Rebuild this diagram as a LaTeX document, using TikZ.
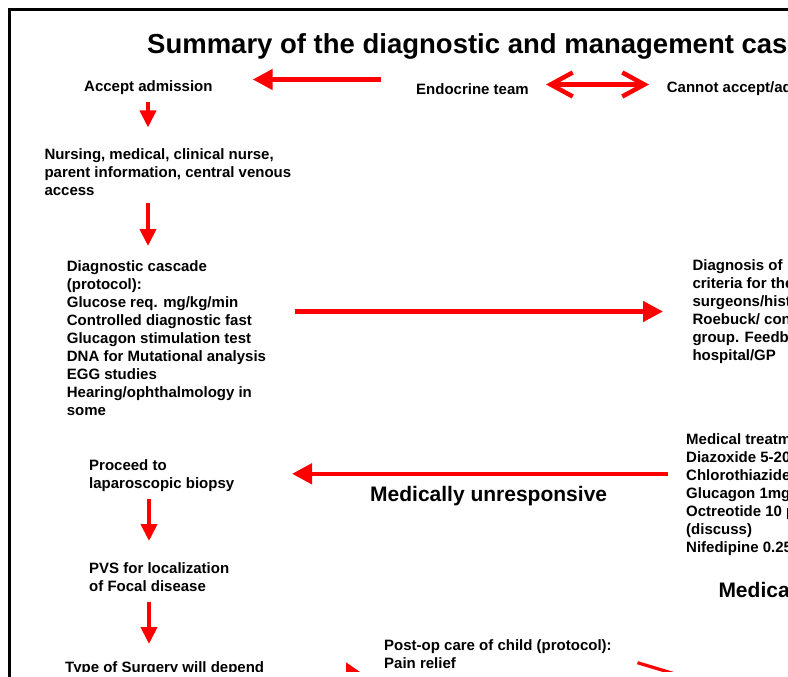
\documentclass[tikz,border=0pt]{standalone}
\usepackage{fontspec}
\setmainfont{Liberation Sans}
\usetikzlibrary{arrows.meta}
\tikzset{
  txt/.style={anchor=base west, inner sep=0pt, align=left, font=\bfseries\fontsize{15}{18}\selectfont},
  bigtxt/.style={anchor=base west, inner sep=0pt, font=\bfseries\fontsize{21}{25}\selectfont},
  titletxt/.style={anchor=base west, inner sep=0pt, font=\bfseries\fontsize{27.5}{32}\selectfont},
  harr/.style={draw=red, line width=4.6pt, -{Triangle[length=20pt,width=20pt]}, red},
  darr/.style={draw=red, line width=4pt, -{Triangle[length=17pt,width=16pt]}, red},
  dblarr/.style={draw=red, line width=4.5pt, {Straight Barb[length=22pt,width=24pt]}-{Straight Barb[length=22pt,width=24pt]}, red},
  thinred/.style={draw=red, line width=3.2pt}
}
\begin{document}
\begin{tikzpicture}[x=1pt,y=-1pt]
\useasboundingbox (0,0) rectangle (788,677);
\begin{scope}
\clip (11,11) rectangle (787,671.8);
% texts (multi-line nodes are placed by the baseline of their last line)
\node[titletxt] (title) at (147,53.3) {Summary of the diagnostic and management cascade};
\node[txt] (acc) at (84,92) {Accept admission};
\node[txt] (endo) at (416,95) {Endocrine team};
\node[txt] (cannot) at (666.7,92.7) {Cannot accept/advise};
\node[txt] (nurs) at (44.3,195) {Nursing, medical, clinical nurse,\\parent information, central venous\\access};
\node[txt] (diag) at (66.7,415.7) {Diagnostic cascade\\(protocol):\\Glucose req. mg/kg/min\\Controlled diagnostic fast\\Glucagon stimulation test\\DNA for Mutational analysis\\EGG studies\\Hearing/ophthalmology in\\some};
\node[txt] (dx) at (692.3,360.7) {Diagnosis of \ CHI and\\criteria for the\\surgeons/histopathology/\\Roebuck/ consultant\\group. Feedback to\\hospital/GP};
\node[txt] (med) at (686,552.3) {Medical treatment\\Diazoxide 5-20 mg/kg/day\\Chlorothiazide 7-10 mg/kg/day\\Glucagon 1mg/day\\Octreotide 10 \textmu g/kg/day\\(discuss)\\Nifedipine 0.25 mg/kg/day};
\node[bigtxt] (resp) at (718.3,597.7) {Medically responsive};
\node[bigtxt] (unresp) at (370,501) {Medically unresponsive};
\node[txt] (lap) at (89,488) {Proceed to\\laparoscopic biopsy};
\node[txt] (pvs) at (89,591.3) {PVS for localization\\of Focal disease};
\node[txt] (surg) at (65,672) {Type of Surgery will depend};
\node[txt] (postop) at (384,668) {Post-op care of child (protocol):\\Pain relief};
% connector end points
\coordinate (e1a) at (381,79.5);   \coordinate (e1b) at (252.7,79.5);
\coordinate (e2a) at (546,84.5);   \coordinate (e2b) at (649,84.5);
\coordinate (d1a) at (148,102);    \coordinate (d1b) at (148,127.5);
\coordinate (d2a) at (148,202.7);  \coordinate (d2b) at (148,246);
\coordinate (r1a) at (295,311.5);  \coordinate (r1b) at (663,311.5);
\coordinate (u1a) at (668,473.8);  \coordinate (u1b) at (292,473.8);
\coordinate (d3a) at (149,499);    \coordinate (d3b) at (149,541);
\coordinate (d4a) at (149,601.7);  \coordinate (d4b) at (149,644);
\coordinate (s1a) at (300,676);    \coordinate (s1b) at (366,676);
\coordinate (p1a) at (637.5,662.7); \coordinate (p1b) at (700,681.5);
% connectors
\draw[harr] (e1a) -- (e1b);
\draw[dblarr] (e2a) -- (e2b);
\draw[darr] (d1a) -- (d1b);
\draw[darr] (d2a) -- (d2b);
\draw[harr] (r1a) -- (r1b);
\draw[harr] (u1a) -- (u1b);
\draw[darr] (d3a) -- (d3b);
\draw[darr] (d4a) -- (d4b);
\draw[red, line width=5pt, -{Triangle[length=20pt,width=26pt]}] (s1a) -- (s1b);
\draw[thinred] (p1a) -- (p1b);
\end{scope}
% frame
\draw[line width=2.4pt] (9.5,677) -- (9.5,9.5) -- (788,9.5);
\end{tikzpicture}
\end{document}
